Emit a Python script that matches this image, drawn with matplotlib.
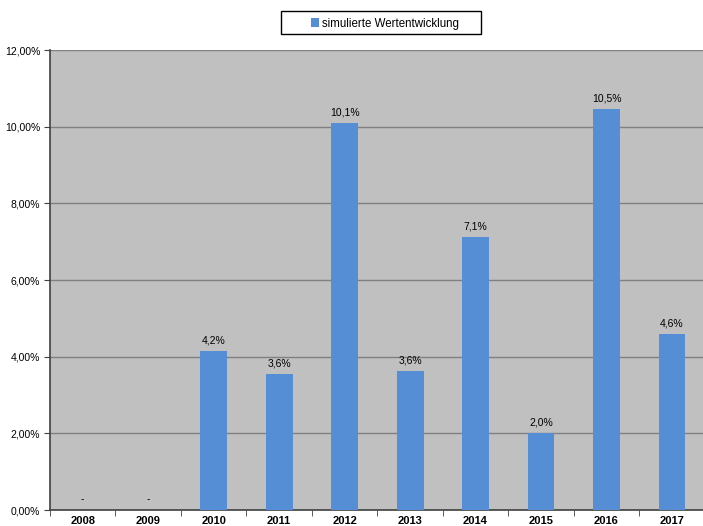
import matplotlib
matplotlib.use("Agg")
import matplotlib.pyplot as plt
from matplotlib.ticker import FixedLocator
from matplotlib.patches import Rectangle

plt.rcParams['font.family'] = ['Liberation Sans', 'DejaVu Sans']

years = ["2008", "2009", "2010", "2011", "2012", "2013", "2014", "2015", "2016", "2017"]
values = [0.0, 0.0, 4.15, 3.55, 10.1, 3.62, 7.12, 2.0, 10.46, 4.59]
labels = ["-", "-", "4,2%", "3,6%", "10,1%", "3,6%", "7,1%", "2,0%", "10,5%", "4,6%"]
yticks = [0, 2, 4, 6, 8, 10, 12]
ytick_labels = ["0,00%", "2,00%", "4,00%", "6,00%", "8,00%", "10,00%", "12,00%"]
series_name = "simulierte Wertentwicklung"

W, H = 703, 526
fig = plt.figure(figsize=(W / 100, H / 100), dpi=100)
ax = fig.add_axes([50 / W, (H - 510) / H, 654.7 / W, 460 / H])
ax.set_facecolor("#C0C0C0")

x = list(range(len(years)))
bars = ax.bar(x, values, width=0.41, color="#558ED5", zorder=3, label=series_name)
for xi, v, lab in zip(x, values, labels):
    ax.text(xi, v + 0.15, lab, ha="center", va="bottom", fontsize=7.5, color="black", zorder=4)

ax.set_xlim(-0.5, len(years) - 0.5)
ax.set_ylim(0, 12)
ax.set_yticks(yticks)
ax.set_yticklabels(ytick_labels, fontsize=7.5)
ax.yaxis.grid(True, color="#808080", linewidth=1.0, zorder=1)
ax.set_axisbelow(True)

ax.set_xticks(x)
ax.set_xticklabels(years, fontsize=8, fontweight="bold")
ax.tick_params(axis="x", which="major", length=0, pad=4)
ax.xaxis.set_minor_locator(FixedLocator([i + 0.5 for i in range(-1, len(years))]))
ax.tick_params(axis="x", which="minor", length=4, direction="out", color="#404040")
ax.tick_params(axis="y", length=4, direction="out", color="#404040", pad=3)

for s in ["top", "right"]:
    ax.spines[s].set_visible(False)
for s in ["left", "bottom"]:
    ax.spines[s].set_color("#404040")
    ax.spines[s].set_linewidth(1.2)

# legend box
fig.patches.append(Rectangle((281 / W, 1 - 34 / H), 200 / W, 23 / H,
                             transform=fig.transFigure, facecolor="white",
                             edgecolor="black", linewidth=1.0, zorder=5))
leg = fig.legend(handles=[bars], labels=[series_name], loc="center",
                 bbox_to_anchor=(385 / W, 1 - 23.5 / H), fontsize=8.3,
                 frameon=False,
                 handlelength=0.7, handleheight=0.7, handletextpad=0.2,
                 borderpad=0.3, borderaxespad=0)
leg.set_zorder(6)

fig.savefig("out.png", dpi=100)
